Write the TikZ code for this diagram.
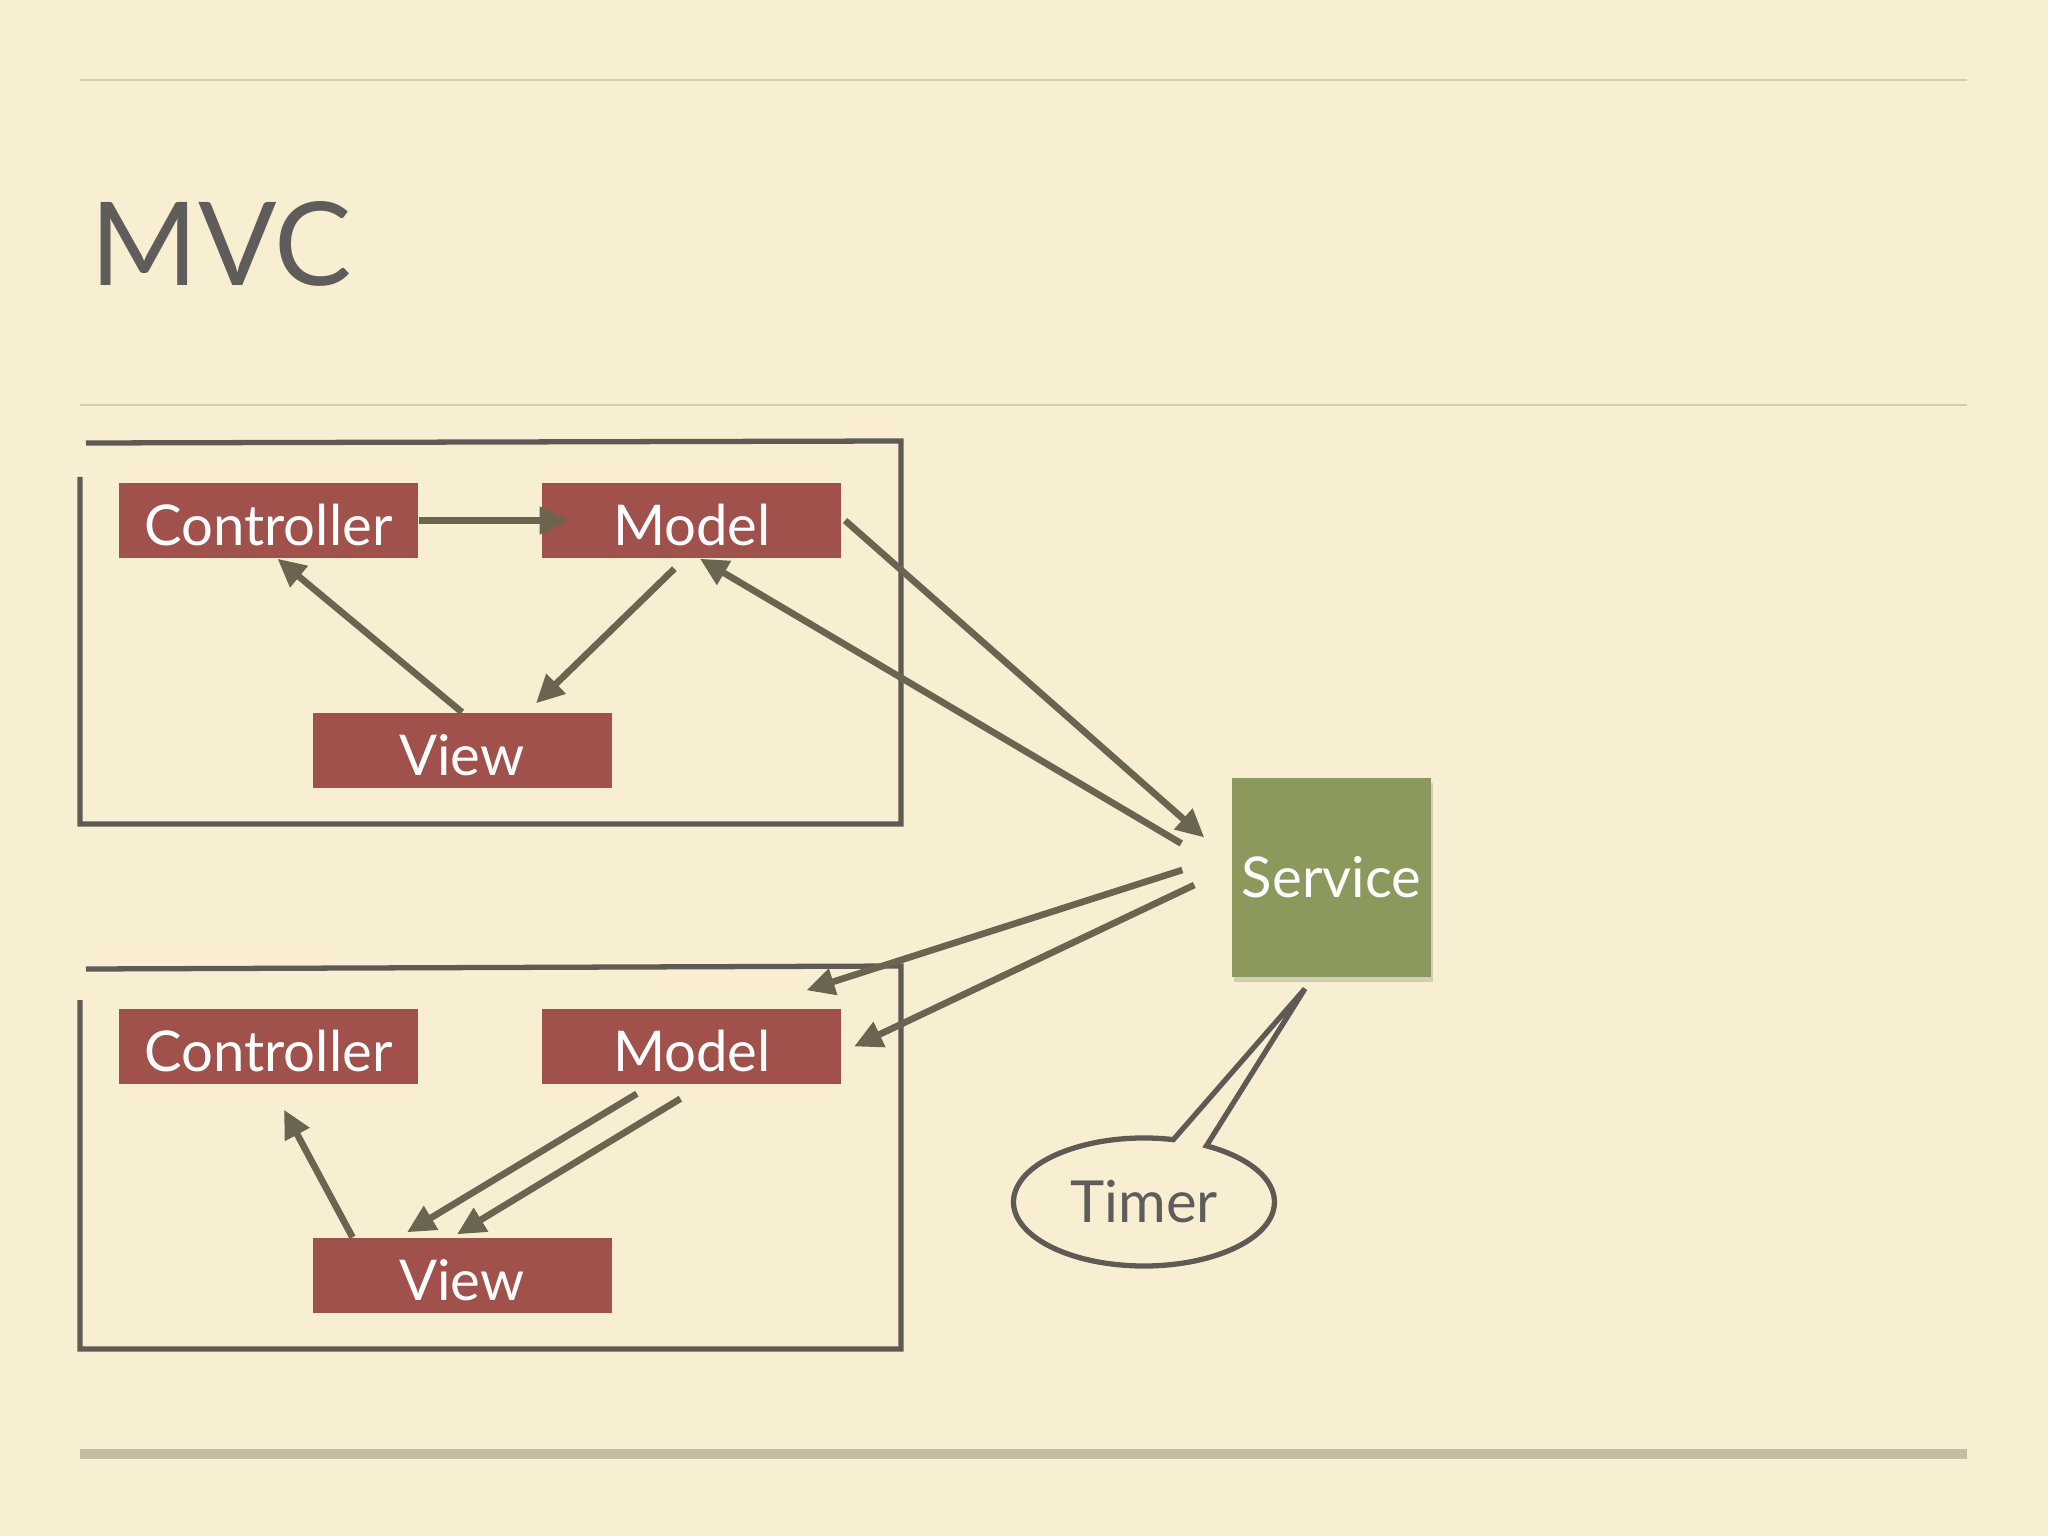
\documentclass[tikz,border=0pt]{standalone}
\usepackage{fontspec}
\setmainfont{Lato}
\usepackage{xcolor}
\usepackage{tikz}
\usetikzlibrary{arrows.meta, positioning, calc, shadows}
\definecolor{paper}{HTML}{F8EFD3}
\definecolor{boxred}{HTML}{A0514B}
\definecolor{svcgreen}{HTML}{8B9A5C}
\definecolor{flowline}{HTML}{6A6450}
\definecolor{framegray}{HTML}{5F5B54}
\definecolor{titlegray}{HTML}{5E5D5B}
\definecolor{rulecol}{HTML}{D6CCAE}
\definecolor{rulethick}{HTML}{C3BDA3}

\begin{document}
\begin{tikzpicture}[
    node distance=1.23cm,
    mvcbox/.style={rectangle, fill=boxred, text=white, minimum width=2.99cm, minimum height=0.75cm,
      inner sep=0pt, text height=14pt, text depth=0pt, font=\fontsize{16}{19}\selectfont},
    svcbox/.style={rectangle, fill=svcgreen, text=white, minimum size=1.99cm, inner sep=0pt,
      font=\fontsize{16}{19}\selectfont,
      drop shadow={shadow xshift=0.2mm, shadow yshift=-0.5mm, opacity=0.25, fill=black!60}},
    timertext/.style={text=titlegray, inner sep=0pt, font=\fontsize{16.5}{19}\selectfont},
    title/.style={text=titlegray, inner sep=0pt, font=\fontsize{33}{40}\selectfont},
    flow/.style={-{Triangle[length=8pt,width=7.5pt]}, line width=1.9pt, draw=flowline, fill=flowline},
    frame/.style={line width=1.5pt, draw=framegray},
    bubble/.style={line width=1.5pt, draw=framegray},
    rule/.style={line width=0.5pt, draw=rulecol}
  ]
    % page
    \fill[paper] (0,0) rectangle (20.48,-15.36);
    \useasboundingbox (0,0) rectangle (20.48,-15.36);

    \draw[rule] (0.80,-0.80) -- (19.67,-0.80);
    \draw[rule] (0.80,-4.05) -- (19.67,-4.05);
    \draw[line width=2.6pt, draw=rulethick] (0.80,-14.54) -- (19.67,-14.54);

    \node[title, anchor=base west] (mvc) at (0.90,-2.86) {MVC};

    % the two frames
    \draw[frame] (0.86,-4.43) -- (9.01,-4.41) -- (9.01,-8.24) -- (0.80,-8.24) -- (0.80,-4.77);
    \draw[frame] (0.86,-9.69) -- (9.01,-9.66) -- (9.01,-13.49) -- (0.80,-13.49) -- (0.80,-10.00);

    \node[mvcbox] (ctrlA) at (2.685,-5.205) {Controller};
    \node[mvcbox, right=of ctrlA] (modelA) {Model};
    \node[mvcbox] (viewA) at (4.62,-7.505) {View};

    \node[mvcbox] (ctrlB) at (2.685,-10.465) {Controller};
    \node[mvcbox, right=of ctrlB] (modelB) {Model};
    \node[mvcbox] (viewB) at (4.62,-12.755) {View};

    \node[svcbox] (service) at (13.315,-8.775) {Service};
    \node[timertext] (timer) at (11.44,-12.02) {Timer};

    % speech bubble round the timer
    \draw[bubble] ([shift={(77:1.305cm and 0.64cm)}]timer.center)
      arc[start angle=77, end angle=421.4, x radius=1.305cm, y radius=0.64cm]
      -- ([xshift=-2.65mm,yshift=-1.1mm]service.south) -- cycle;

    % first triad
    \draw[flow] (ctrlA.east) -- ([xshift=2.6mm]modelA.west);
    \draw[flow] (viewA.north) -- ([xshift=0.9mm]ctrlA.south);
    \draw[flow] ([xshift=-1.75mm,yshift=-1mm]modelA.south) -- ([xshift=7.4mm,yshift=0.9mm]viewA.north);

    % service links
    \draw[flow] ([xshift=0.3mm]modelA.east) -- ([xshift=-2.7mm,yshift=4mm]service.west);
    \draw[flow] ([xshift=-5mm,yshift=3.4mm]service.west) -- ([xshift=0.8mm]modelA.south);
    \draw[flow] ([xshift=-4.9mm,yshift=0.75mm]service.west) -- ([xshift=11.45mm,yshift=1.8mm]modelB.north);
    \draw[flow] ([xshift=-3.7mm,yshift=-0.75mm]service.west) -- ([xshift=1.2mm]modelB.east);

    % second triad
    \draw[flow] ([xshift=-10.95mm]viewB.north) -- ([xshift=1.55mm,yshift=-2.5mm]ctrlB.south);
    \draw[flow] ([xshift=-5.5mm,yshift=-0.9mm]modelB.south) -- ([xshift=-5.5mm,yshift=0.5mm]viewB.north);
    \draw[flow] ([xshift=-1.15mm,yshift=-1.4mm]modelB.south) -- ([xshift=-0.5mm,yshift=0.3mm]viewB.north);
  \end{tikzpicture}
\end{document}
